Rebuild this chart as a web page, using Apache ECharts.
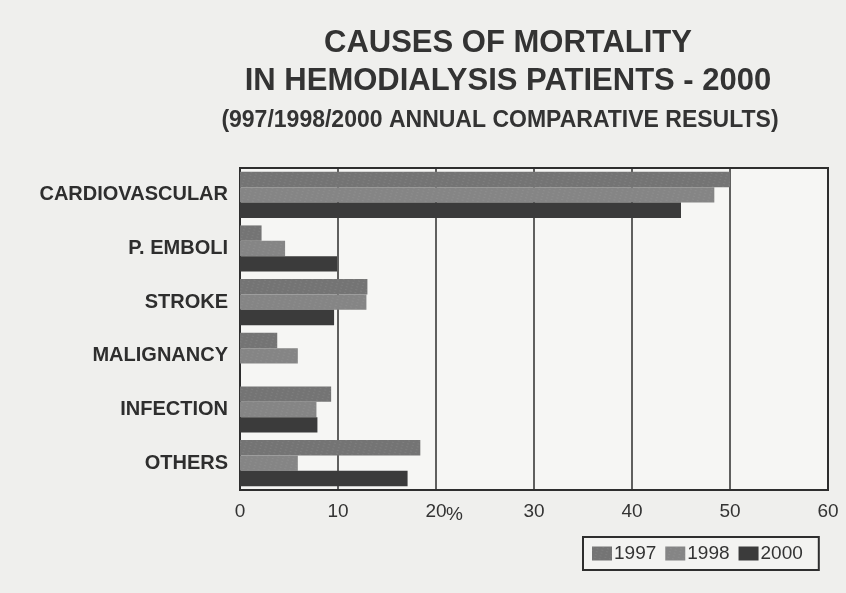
<!DOCTYPE html>
<html>
<head>
<meta charset="utf-8">
<script src="https://cdn.jsdelivr.net/npm/echarts@6/dist/echarts.min.js"></script>
<style>
  html, body { margin: 0; padding: 0; background: #efefed; }
  #chart { width: 846px; height: 593px; }
</style>
</head>
<body>
<div id="chart"></div>
<script>
// causes of death, top to bottom
const causes = ['CARDIOVASCULAR', 'P. EMBOLI', 'STROKE', 'MALIGNANCY', 'INFECTION', 'OTHERS']
// percent per year
const y1997 = [50, 2.2, 13, 3.8, 9.3, 18.4]
const y1998 = [48.4, 4.6, 12.9, 5.9, 7.8, 5.9]
const y2000 = [45, 9.9, 9.6, 0, 7.9, 17.1]
const xTicks = [0, 10, 20, 30, 40, 50, 60]

const chart = echarts.init(document.getElementById('chart'))

const speckle = {
  symbol: 'rect',
  symbolSize: 0.6,
  dashArrayX: [2, 3],
  dashArrayY: [1, 2],
  rotation: 0.3,
  color: 'rgba(190,190,190,0.45)'
}

chart.setOption({
  backgroundColor: '#efefed',
  animation: false,
  title: [{
    text: 'CAUSES OF MORTALITY\nIN HEMODIALYSIS PATIENTS - 2000',
    left: 503,
    top: 19,
    textAlign: 'center',
    textStyle: {
      fontFamily: 'Liberation Sans',
      fontSize: 31,
      fontWeight: 'bold',
      color: '#333',
      lineHeight: 38
    }
  }, {
    text: '(997/1998/2000 ANNUAL COMPARATIVE RESULTS)',
    left: 495,
    top: 104,
    textAlign: 'center',
    textStyle: {
      fontFamily: 'Liberation Sans',
      fontSize: 23,
      fontWeight: 'bold',
      color: '#333'
    }
  }],
  grid: {
    left: 240,
    right: 18,
    top: 168,
    bottom: 103,
    show: true,
    backgroundColor: '#f6f6f4',
    borderColor: '#2e2e2e',
    borderWidth: 2
  },
  legend: {
    left: 583,
    top: 537,
    padding: [7, 16, 7, 9],
    borderColor: '#2e2e2e',
    borderWidth: 2,
    backgroundColor: '#f3f3f1',
    itemWidth: 20,
    itemHeight: 14,
    itemGap: 9,
    icon: 'rect',
    textStyle: {
      fontFamily: 'Liberation Sans Narrow, Liberation Sans',
      fontSize: 19,
      color: '#333',
      padding: [0, 0, 0, -3]
    },
    data: ['1997', '1998', '2000']
  },
  xAxis: {
    type: 'value',
    min: 0,
    max: 60,
    interval: 10,
    axisLine: { show: true, lineStyle: { color: '#2e2e2e', width: 2 } },
    axisTick: { show: false },
    splitLine: { show: true, lineStyle: { color: '#2e2e2e', width: 1.5 } },
    axisLabel: {
      margin: 12,
      fontFamily: 'Liberation Sans Narrow, Liberation Sans',
      fontSize: 19,
      color: '#333',
      formatter: v => xTicks.indexOf(v) >= 0 ? String(v) : ''
    }
  },
  yAxis: {
    type: 'category',
    data: causes,
    inverse: true,
    axisLine: { show: true, lineStyle: { color: '#2e2e2e', width: 2 } },
    axisTick: { show: false },
    axisLabel: {
      margin: 12,
      fontFamily: 'Liberation Sans',
      fontSize: 20,
      fontWeight: 'bold',
      color: '#2e2e2e'
    }
  },
  graphic: [{
    type: 'text',
    left: 446,
    top: 505,
    style: {
      text: '%',
      font: '19px "Liberation Sans"',
      fill: '#333'
    }
  }],
  series: [{
    name: '1997',
    type: 'bar',
    data: y1997,
    barGap: '0%',
    barCategoryGap: '14%',
    itemStyle: { color: '#747474', decal: speckle }
  }, {
    name: '1998',
    type: 'bar',
    data: y1998,
    itemStyle: { color: '#858585', decal: speckle }
  }, {
    name: '2000',
    type: 'bar',
    data: y2000,
    itemStyle: { color: '#3b3b3b' }
  }]
})
</script>
</body>
</html>
